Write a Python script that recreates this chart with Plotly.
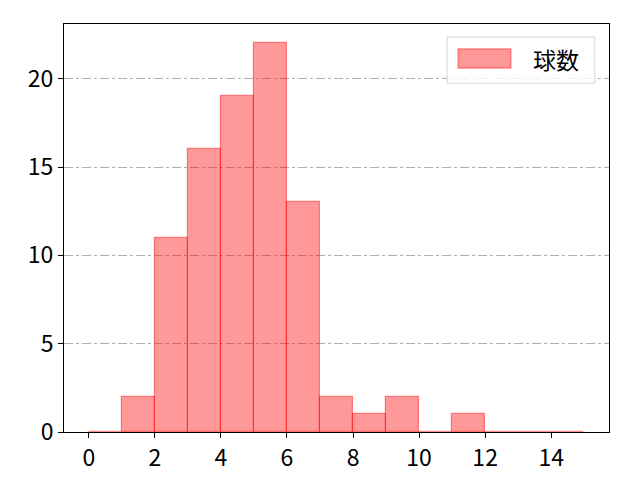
import plotly.graph_objects as go

# 投球数ヒストグラム (ビン幅 1)
bin_left = list(range(0, 15))
counts = [0, 2, 11, 16, 19, 22, 13, 2, 1, 2, 0, 1, 0, 0, 0]
x_ticks = [0, 2, 4, 6, 8, 10, 12, 14]
y_ticks = [0, 5, 10, 15, 20]
series_name = '球数'

fill = 'rgba(255,0,0,0.4)'
edge = 'rgba(255,0,0,0.45)'

fig = go.Figure()
fig.add_trace(go.Bar(
    x=bin_left, y=counts, width=1, offset=0,
    name=series_name,
    marker=dict(color=fill, line=dict(color=edge, width=1.2)),
    showlegend=False,
))

# matplotlib 風の凡例 (横長パッチ)
fig.add_shape(type='rect', xref='paper', yref='paper',
              x0=0.703, x1=0.974, y0=0.855, y1=0.968,
              line=dict(color='#d6d6d6', width=1), fillcolor='rgba(255,255,255,0.8)')
fig.add_shape(type='rect', xref='paper', yref='paper',
              x0=0.723, x1=0.820, y0=0.892, y1=0.939,
              line=dict(color=edge, width=1.2), fillcolor=fill)
fig.add_annotation(text=series_name, xref='paper', yref='paper', x=0.856, y=0.914,
                   xanchor='left', yanchor='middle', showarrow=False,
                   font=dict(size=23, color='black'))

fig.update_layout(
    width=640, height=480,
    margin=dict(l=56, r=39, t=16, b=56),
    plot_bgcolor='white', paper_bgcolor='white',
    font=dict(family='Noto Sans CJK JP', size=23, color='black'),
    bargap=0,
    showlegend=False,
)
fig.update_xaxes(range=[-0.75, 15.75], tickvals=x_ticks, showgrid=False, zeroline=False,
                 showline=True, linecolor='black', linewidth=1, mirror=True,
                 ticks='outside', ticklen=5, tickcolor='black')
fig.update_yaxes(range=[0, 23.1], tickvals=y_ticks, showgrid=True, gridcolor='#b0b0b0',
                 griddash='dashdot', gridwidth=0.8, zeroline=False,
                 showline=True, linecolor='black', linewidth=1, mirror=True,
                 ticks='outside', ticklen=5, tickcolor='black')

fig.write_html('out.html')
